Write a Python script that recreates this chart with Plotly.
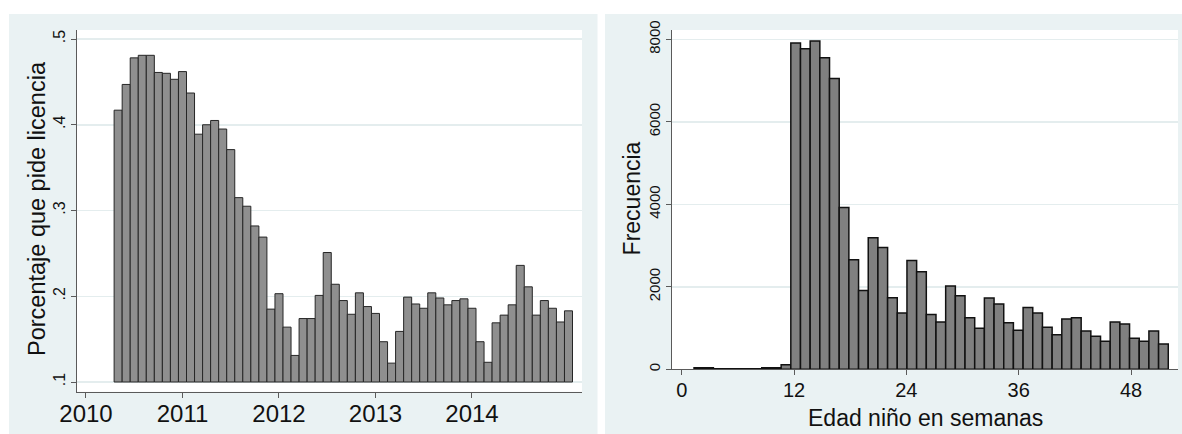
import plotly.graph_objects as go
import pandas as pd

W, H = 1182, 434

# ---------------- data: left panel (monthly share) ----------------
months = pd.period_range("2010-05", "2015-01", freq="M")
pct_licencia = [0.417, 0.447, 0.478, 0.481, 0.481, 0.461, 0.460, 0.453, 0.462, 0.437,
                0.389, 0.400, 0.405, 0.395, 0.371, 0.315, 0.305, 0.282, 0.269, 0.185,
                0.203, 0.164, 0.131, 0.174, 0.174, 0.201, 0.251, 0.214, 0.195, 0.179,
                0.204, 0.188, 0.180, 0.147, 0.122, 0.159, 0.199, 0.191, 0.186, 0.204,
                0.198, 0.190, 0.195, 0.197, 0.186, 0.147, 0.123, 0.169, 0.178, 0.190,
                0.236, 0.211, 0.178, 0.195, 0.186, 0.170, 0.183]
pct_base = 0.1
year_ticks = [2010, 2011, 2012, 2013, 2014]
pct_ticks = [0.1, 0.2, 0.3, 0.4, 0.5]
pct_ticklabels = [".1", ".2", ".3", ".4", ".5"]

# ---------------- data: right panel (histogram of age in weeks) ----------------
hist_counts = [40, 40, 15, 15, 15, 15, 15, 40, 40, 111,
               7907, 7771, 7956, 7553, 7052, 3922, 2654, 1912, 3187, 2953,
               1734, 1363, 2639, 2364, 1331, 1145, 2017, 1782, 1249, 993,
               1726, 1581, 1129, 944, 1501, 1363, 1017, 838, 1218, 1249,
               927, 799, 678, 1145, 1097, 750, 678, 927, 613]
hist_start = 1.314
hist_width = 1.034
week_ticks = [0, 12, 24, 36, 48]
freq_ticks = [0, 2000, 4000, 6000, 8000]

# derived positions
month_x = [p.year + (p.month - 1) / 12 for p in months]
bar_len = [v - pct_base for v in pct_licencia]
hist_x = [hist_start + (i + 0.5) * hist_width for i in range(len(hist_counts))]

BG = "#EAF2F3"
GRID = "#E4EDEE"
AXC = "#5a5a5a"
FONT = "Arial, Liberation Sans, sans-serif"

fig = go.Figure()
fig.add_trace(go.Bar(x=month_x, y=bar_len, base=pct_base, width=1 / 12,
                     marker=dict(color="#8f8f8f", line=dict(color="#262626", width=1)),
                     xaxis="x", yaxis="y", showlegend=False))
fig.add_trace(go.Bar(x=hist_x, y=hist_counts, width=hist_width,
                     marker=dict(color="#808080", line=dict(color="#111111", width=1.5)),
                     xaxis="x2", yaxis="y2", showlegend=False))

def px(v):
    return v / W

def py(v):
    return 1 - v / H

shapes = [
    dict(type="rect", xref="paper", yref="paper", x0=px(9), x1=px(597.5), y0=0, y1=py(14),
         fillcolor=BG, line=dict(width=0), layer="below"),
    dict(type="rect", xref="paper", yref="paper", x0=px(605), x1=1, y0=0, y1=py(14),
         fillcolor=BG, line=dict(width=0), layer="below"),
    dict(type="rect", xref="paper", yref="paper", x0=px(77), x1=px(582), y0=py(391.7), y1=py(30),
         fillcolor="white", line=dict(width=0), layer="below"),
    dict(type="rect", xref="paper", yref="paper", x0=px(672), x1=px(1178), y0=py(369.3), y1=py(30),
         fillcolor="white", line=dict(width=0), layer="below"),
]

common = dict(showline=True, linecolor=AXC, linewidth=1, ticks="outside", ticklen=5,
              tickcolor=AXC, tickwidth=1, zeroline=False, fixedrange=True,
              automargin=False)

fig.update_layout(
    template="none",
    width=W, height=H,
    autosize=False,
    margin=dict(l=0, r=0, t=0, b=0, pad=0),
    paper_bgcolor="white", plot_bgcolor="rgba(0,0,0,0)",
    bargap=0,
    font=dict(family=FONT, color="#111111"),
    shapes=shapes,
    xaxis=dict(domain=[px(77), px(582)], range=[2009.907, 2015.14], anchor="y",
               tickvals=year_ticks, ticktext=[str(t) for t in year_ticks],
               showgrid=False, tickfont=dict(size=24), ticklabelstandoff=-5, **common),
    yaxis=dict(domain=[py(391.7), py(30)], range=[0.0887, 0.5105], anchor="x",
               tickvals=pct_ticks, ticktext=pct_ticklabels, tickangle=-90,
               showgrid=True, gridcolor=GRID, gridwidth=1.5,
               tickfont=dict(size=16), **common),
    xaxis2=dict(domain=[px(672), px(1178)], range=[-1.04, 53.02], anchor="y2",
                tickvals=week_ticks, showgrid=False, tickfont=dict(size=20),
                ticklabelstandoff=-2, **common),
    yaxis2=dict(domain=[py(369.3), py(30)], range=[0, 8225], anchor="x2",
                tickvals=freq_ticks, tickangle=-90,
                showgrid=True, gridcolor=GRID, gridwidth=1.5,
                tickfont=dict(size=15), **common),
    annotations=[
        dict(text="Porcentaje que pide licencia", xref="paper", yref="paper",
             x=px(37), y=py(209), textangle=-90, showarrow=False,
             xanchor="center", yanchor="middle", font=dict(size=23.5)),
        dict(text="Frecuencia", xref="paper", yref="paper",
             x=px(632), y=py(198.4), textangle=-90, showarrow=False,
             xanchor="center", yanchor="middle", font=dict(size=23)),
        dict(text="Edad niño en semanas", xref="paper", yref="paper",
             x=px(925), y=py(418), showarrow=False,
             xanchor="center", yanchor="middle", font=dict(size=23)),
    ],
)

fig.write_html("out.html",
               config={"displayModeBar": False, "staticPlot": True},
               post_script="document.body.style.margin='0';document.body.style.overflow='hidden';")
